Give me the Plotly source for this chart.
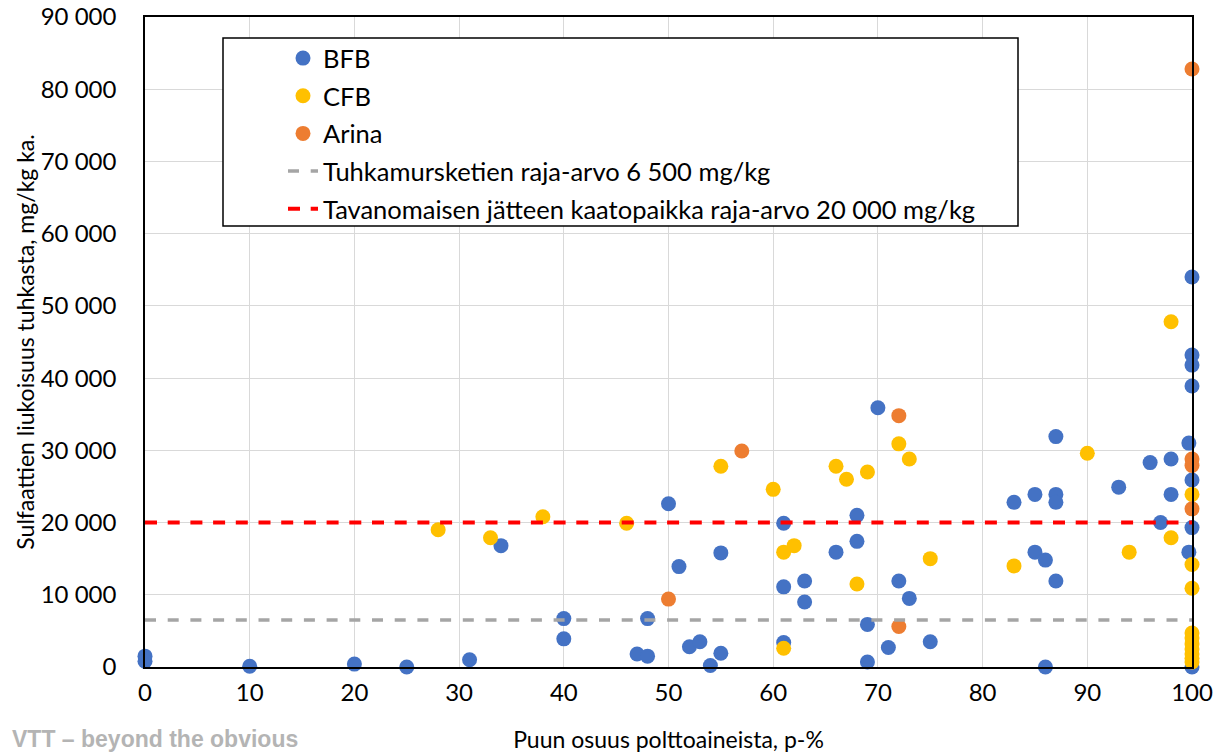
import plotly.graph_objects as go

# ---- data ----
bfb_x = [0, 0, 10, 20, 25, 31, 34, 40, 40, 47, 48, 48, 50, 51, 52, 53, 54, 55, 55,
         61, 61, 61, 63, 63, 66, 68, 68, 69, 69, 70, 71, 72, 73, 75,
         83, 85, 85, 86, 86, 87, 87, 87, 87, 93, 96, 97, 98, 98, 99.7, 99.7,
         100, 100, 100, 100, 100, 100, 100]
bfb_y = [1500, 800, 100, 400, 0, 1000, 16800, 6700, 3900, 1800, 1500, 6700, 22600, 13900, 2800, 3500, 200, 15800, 1900,
         19900, 11100, 3400, 11900, 9000, 15900, 21000, 17400, 5900, 700, 35900, 2700, 11900, 9500, 3500,
         22800, 23900, 15900, 14800, 0, 31900, 23900, 22800, 11900, 24900, 28300, 20000, 28800, 23900, 31000, 15900,
         54000, 43200, 41800, 38900, 25900, 19300, 0]

cfb_x = [28, 33, 38, 46, 55, 60, 61, 61, 62, 66, 67, 68, 69, 72, 73, 75, 83, 90, 94, 98, 98,
         100, 100, 100, 100, 100, 100, 100, 100, 100, 100]
cfb_y = [19000, 17900, 20800, 19900, 27800, 24600, 15900, 2600, 16800, 27800, 26000, 11500, 27000, 30900, 28800,
         15000, 14000, 29600, 15900, 47800, 17900,
         23900, 14200, 10900, 4700, 4000, 3200, 2500, 1800, 1200, 700]

arina_x = [50, 57, 72, 72, 100, 100, 100, 100]
arina_y = [9400, 29900, 34800, 5600, 82800, 28800, 27900, 21900]

limit_x = [0, 100]
limit_tuhka = 6500
limit_jate = 20000

x_ticks = [0, 10, 20, 30, 40, 50, 60, 70, 80, 90, 100]
y_ticks = [0, 10000, 20000, 30000, 40000, 50000, 60000, 70000, 80000, 90000]

FONT = "Lato"

fig = go.Figure()

def pts(name, xs, ys, color, grp):
    fig.add_trace(go.Scatter(
        x=xs, y=ys, mode="markers", name=name, legendgroup=grp,
        marker=dict(color=color, size=15, line=dict(width=0)),
        cliponaxis=False))

pts("BFB", bfb_x, bfb_y, "#4472C4", "a")
pts("CFB", cfb_x, cfb_y, "#FFC000", "b")
pts("Arina", arina_x, arina_y, "#ED7D31", "c")

fig.add_trace(go.Scatter(
    x=limit_x, y=[limit_tuhka] * 2, mode="lines", legendgroup="d",
    name="Tuhkamursketien raja-arvo 6 500 mg/kg",
    line=dict(color="#A5A5A5", width=3.5, dash="11px,11.7px")))
fig.add_trace(go.Scatter(
    x=limit_x, y=[limit_jate] * 2, mode="lines", legendgroup="e",
    name="Tavanomaisen jätteen kaatopaikka raja-arvo 20 000 mg/kg",
    line=dict(color="#FF0000", width=4, dash="12px,10.7px")))

fig.update_layout(
    width=1214, height=754,
    margin=dict(l=145, r=22, t=17, b=87),
    paper_bgcolor="white", plot_bgcolor="white",
    font=dict(family=FONT, size=24, color="#000000"),
    separators=", ",
    showlegend=True,
    legend=dict(
        x=(283 - 145) / 1047, y=(667 - 35) / 650, xanchor="left", yanchor="top",
        bgcolor="rgba(0,0,0,0)", borderwidth=0,
        traceorder="grouped", tracegroupgap=1.5,
        font=dict(family=FONT, size=25.5),
    ),
    shapes=[dict(type="rect", xref="paper", yref="paper",
                 x0=(223 - 145) / 1047, x1=(1018 - 145) / 1047,
                 y0=(667 - 226) / 650, y1=(667 - 38) / 650,
                 line=dict(color="black", width=1.5), fillcolor="white",
                 layer="above")],
    annotations=[dict(text="<b>VTT – beyond the obvious</b>", xref="paper", yref="paper",
                      x=-135 / 1047, y=-87 / 650, xanchor="left", yanchor="bottom",
                      showarrow=False,
                      font=dict(family="Liberation Sans", size=23, color="#B4B4B4"),
                      )],
)

fig.update_xaxes(
    range=[0, 100], tickvals=x_ticks, showgrid=True, gridcolor="#D9D9D9", gridwidth=1,
    zeroline=False, showline=True, linecolor="black", linewidth=1.5, mirror=True,
    ticks="", ticklabelstandoff=3, automargin=False,
    tickfont=dict(family=FONT, size=24),
    title=dict(text="Puun osuus polttoaineista, p-%", standoff=27,
               font=dict(family=FONT, size=23, color="#000000")),
)
fig.update_yaxes(
    range=[0, 90000], tickvals=y_ticks, tickformat=",d", showgrid=True, gridcolor="#D9D9D9",
    gridwidth=1, zeroline=False, showline=True, linecolor="black", linewidth=1.5, mirror=True,
    ticks="", ticklabelstandoff=22, automargin=False,
    tickfont=dict(family=FONT, size=24),
    title=dict(text="Sulfaattien liukoisuus tuhkasta, mg/kg ka.", standoff=0,
               font=dict(family=FONT, size=23, color="#000000")),
)

fig.write_html("out.html")
